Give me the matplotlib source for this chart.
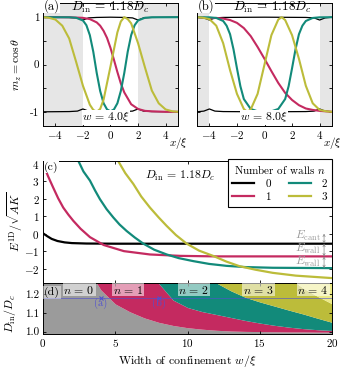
import matplotlib.pyplot as plt
import numpy as np

plt.rcParams['font.family'] = 'cmr10'
plt.rcParams['mathtext.fontset'] = 'cm'
plt.rcParams['axes.formatter.use_mathtext'] = True
plt.rcParams['font.size'] = 8
plt.rcParams['axes.linewidth'] = 0.7
plt.rcParams['xtick.direction'] = 'in'
plt.rcParams['ytick.direction'] = 'in'
plt.rcParams['xtick.top'] = True
plt.rcParams['ytick.right'] = True
plt.rcParams['xtick.major.size'] = 2.5
plt.rcParams['ytick.major.size'] = 2.5
plt.rcParams['xtick.major.width'] = 0.6
plt.rcParams['ytick.major.width'] = 0.6
plt.rcParams['xtick.major.pad'] = 2.5
plt.rcParams['ytick.major.pad'] = 2.5

COLORS = ['black', '#c42a60', '#128a7a', '#bcbc3a']
YELLOW = '#ecea86'
GRAY = '#9b9b9b'
BLUE = '#5050d0'

# ---- (a) profiles, w = 4.0 xi ----
A_W = 4.0
A_X_BLACK = [-4.9, -3.0, -2.4, -2.0, -1.6, -1.0, 0.0, 1.0, 1.6, 2.0, 2.4, 3.0, 4.9]
A_M_BLACK_UP = [1.0, 0.995, 0.985, 0.94, 0.985, 0.995, 1.0, 0.995, 0.985, 0.94, 0.985, 0.995, 1.0]
A_M_BLACK_DOWN = [-1.0, -0.995, -0.985, -0.94, -0.985, -0.995, -1.0, -0.995, -0.985, -0.94, -0.985, -0.995, -1.0]
A_X_RED = [-4.9, -3.0, -2.0, -1.5, -1.0, -0.75, -0.5, -0.25, 0.0, 0.25, 0.5, 0.75, 1.0, 1.5, 2.0, 2.5, 3.0, 4.0, 4.9]
A_M_RED = [1.0, 0.998, 0.986, 0.96, 0.89, 0.82, 0.71, 0.56, 0.35, 0.10, -0.16, -0.40, -0.59, -0.84, -0.94, -0.98, -0.99, -1.0, -1.0]
A_X_TEAL = [-4.9, -3.0, -2.5, -2.0, -1.75, -1.5, -1.25, -1.0, -0.75, -0.5, -0.25, 0.0,
            0.25, 0.5, 0.75, 1.0, 1.25, 1.5, 1.75, 2.0, 2.5, 3.0, 4.9]
A_M_TEAL = [1.0, 0.998, 0.988, 0.93, 0.83, 0.62, 0.27, -0.18, -0.56, -0.82, -0.95, -0.99,
            -0.95, -0.82, -0.56, -0.18, 0.27, 0.62, 0.83, 0.93, 0.988, 0.998, 1.0]
A_X_OLIVE = [-4.9, -4.5, -4.0, -3.5, -3.0, -2.5, -2.0, -1.5, -1.25, -1.0, -0.75, -0.5, 0.0,
             0.5, 0.75, 1.0, 1.25, 1.5, 2.0, 2.5, 3.0, 3.5, 4.0, 4.5, 4.9]
A_M_OLIVE = [1.0, 0.99, 0.95, 0.82, 0.55, 0.06, -0.45, -0.85, -0.96, -1.0, -0.94, -0.74, -0.04,
             0.68, 0.91, 1.0, 0.96, 0.87, 0.45, -0.06, -0.55, -0.82, -0.95, -0.99, -1.0]

# ---- (b) profiles, w = 8.0 xi ----
B_W = 8.0
B_X_BLACK = [-4.9, -4.4, -4.0, -3.6, -3.0, 0.0, 3.0, 3.6, 4.0, 4.4, 4.9]
B_M_BLACK_UP = [1.0, 0.985, 0.94, 0.985, 0.995, 1.0, 0.995, 0.985, 0.94, 0.985, 1.0]
B_M_BLACK_DOWN = [-1.0, -0.985, -0.94, -0.985, -0.995, -1.0, -0.995, -0.985, -0.94, -0.985, -1.0]
B_X_RED = [-4.9, -4.0, -3.5, -3.0, -2.5, -2.0, -1.5, -1.0, -0.5, 0.0, 0.5, 1.0, 1.5, 2.0,
           2.5, 3.0, 3.5, 4.0, 4.9]
B_M_RED = [1.0, 0.975, 0.985, 0.97, 0.94, 0.88, 0.77, 0.60, 0.37, 0.12, -0.14, -0.39, -0.60, -0.75,
           -0.86, -0.93, -0.96, -0.98, -1.0]
B_X_TEAL = [-4.9, -4.0, -3.5, -3.0, -2.75, -2.5, -2.25, -2.0, -1.75, -1.5, -1.0, -0.5, 0.0,
            0.5, 1.0, 1.5, 1.75, 2.0, 2.25, 2.5, 2.75, 3.0, 3.5, 4.0, 4.9]
B_M_TEAL = [1.0, 0.997, 0.984, 0.92, 0.82, 0.64, 0.32, -0.08, -0.46, -0.73, -0.94, -0.99, -1.0,
            -0.99, -0.94, -0.73, -0.46, -0.08, 0.32, 0.64, 0.82, 0.92, 0.984, 0.997, 1.0]
B_X_OLIVE = [-4.9, -4.5, -4.0, -3.5, -3.0, -2.5, -2.0, -1.5, -1.25, -1.0, -0.5, 0.0, 0.5, 1.0,
             1.25, 1.5, 2.0, 2.5, 3.0, 3.5, 4.0, 4.5, 4.9]
B_M_OLIVE = [1.0, 0.99, 0.96, 0.82, 0.45, -0.12, -0.62, -0.94, -1.0, -0.95, -0.62, 0.0, 0.62, 0.95,
             1.0, 0.94, 0.62, 0.12, -0.45, -0.82, -0.96, -0.99, -1.0]

# ---- (c) energies vs width at D_in = 1.18 D_c ----
C_W0 = [0, 0.3, 0.6, 1.0, 1.5, 2.0, 3.0, 5.0, 10, 20]
C_E0 = [0.02, -0.15, -0.3, -0.42, -0.5, -0.54, -0.565, -0.575, -0.575, -0.575]
C_W1 = [0, 0.35, 0.7, 1.05, 1.4, 1.75, 2.1, 2.6, 3.25, 4.2, 5.6, 7.4, 9.5, 12, 15, 20]
C_E1 = [4.0, 3.28, 2.64, 2.02, 1.49, 1.09, 0.73, 0.28, -0.2, -0.65, -1.0, -1.19, -1.27, -1.3, -1.3, -1.3]
C_W2 = [2.45, 2.8, 3.25, 3.6, 3.94, 4.4, 4.87, 5.3, 5.79, 6.35, 6.94, 7.7, 8.56, 9.4, 10.4, 11.5,
        12.7, 14, 15.9, 18, 20]
C_E2 = [4.15, 3.55, 3.03, 2.47, 1.97, 1.4, 0.92, 0.52, 0.15, -0.22, -0.57, -0.92, -1.19, -1.4,
        -1.57, -1.73, -1.84, -1.91, -1.95, -1.96, -1.97]
C_W3 = [5.2, 5.7, 6.25, 6.8, 7.4, 8.0, 8.56, 9.2, 9.94, 10.8, 11.8, 12.7, 13.6, 14.7, 15.9, 17.5, 20]
C_E3 = [4.15, 3.45, 2.84, 2.12, 1.49, 0.93, 0.44, -0.08, -0.57, -0.97, -1.28, -1.6, -1.86, -2.06,
        -2.24, -2.4, -2.54]

# ---- (d) phase boundaries D_in/D_c between n and n+1 walls ----
D_W = list(range(0, 21))
D_B01 = [1.40, 1.40, 1.40, 1.35, 1.225, 1.149, 1.107, 1.074, 1.05, 1.033, 1.021, 1.013, 1.007,
         1.003, 1.001, 1.0, 0.999, 0.998, 0.998, 0.997, 0.997]
D_B12 = [1.40, 1.40, 1.40, 1.40, 1.40, 1.40, 1.40, 1.38, 1.26, 1.17, 1.13, 1.108, 1.092, 1.076,
         1.06, 1.046, 1.034, 1.024, 1.016, 1.01, 1.006]
D_B23 = [1.40] * 11 + [1.38, 1.262, 1.22, 1.185, 1.16, 1.138, 1.116, 1.095, 1.072, 1.05]
D_B34 = [1.40] * 16 + [1.40, 1.29, 1.235, 1.19, 1.15]
D_CUT = 1.18
MARK_W = [4.0, 8.0]

fig = plt.figure(figsize=(3.4, 3.7), dpi=100)
ax_a = fig.add_axes([43 / 340, 1 - 126 / 370, 135 / 340, 123 / 370])
ax_b = fig.add_axes([197 / 340, 1 - 126 / 370, 135 / 340, 123 / 370])
ax_c = fig.add_axes([43 / 340, 1 - 283 / 370, 289 / 340, 122 / 370])
ax_d = fig.add_axes([43 / 340, 1 - 334 / 370, 289 / 340, 51 / 370])


def draw_profile(ax, w, xb, mup, mdown, xr, mr, xt, mt, xo, mo, tag, text_x, w_x):
    ax.axvspan(-5, -w / 2, color='#e6e6e6', lw=0)
    ax.axvspan(w / 2, 5, color='#e6e6e6', lw=0)
    ax.plot(xb, mup, color=COLORS[0], lw=0.9)
    ax.plot(xb, mdown, color=COLORS[0], lw=0.9)
    ax.plot(xr, mr, color=COLORS[1], lw=1.5)
    ax.plot(xt, mt, color=COLORS[2], lw=1.5)
    ax.plot(xo, mo, color=COLORS[3], lw=1.5)
    ax.set_xlim(-4.9, 4.9)
    ax.set_ylim(-1.3, 1.3)
    ax.set_xticks([-4, -2, 0, 2, 4])
    ax.set_yticks([-1, -0.5, 0, 0.5, 1])
    ax.set_yticklabels(['-1', '', '0', '', '1'])
    ax.text(0.005, 0.975, tag, transform=ax.transAxes, ha='left', va='center', fontsize=9,
            bbox=dict(facecolor='white', edgecolor='none', pad=0.3), zorder=5)
    ax.text(text_x, 0.962, r'$D_\mathrm{in}\,=\,1.18D_c$', transform=ax.transAxes,
            ha='center', va='center', fontsize=9.5)
    ax.text(w_x, 0.07, r'$w\,=\,%.1f\xi$' % w, transform=ax.transAxes, ha='center',
            va='center', fontsize=8.5, bbox=dict(facecolor='white', edgecolor='none', pad=0.2))
    ax.text(0.93, -0.07, r'$x/\xi$', transform=ax.transAxes, ha='left', va='top', fontsize=8)


draw_profile(ax_a, A_W, A_X_BLACK, A_M_BLACK_UP, A_M_BLACK_DOWN, A_X_RED, A_M_RED,
             A_X_TEAL, A_M_TEAL, A_X_OLIVE, A_M_OLIVE, '(a)', 0.5, 0.464)
draw_profile(ax_b, B_W, B_X_BLACK, B_M_BLACK_UP, B_M_BLACK_DOWN, B_X_RED, B_M_RED,
             B_X_TEAL, B_M_TEAL, B_X_OLIVE, B_M_OLIVE, '(b)', 0.56, 0.496)
ax_b.set_yticklabels([])
fig.text(17 / 340, 1 - 64 / 370, r'$m_z = \cos\theta$', rotation=90, ha='center', va='center',
         fontsize=8.5)

# ---- (c) ----
lines = []
for i, (w, e) in enumerate([(C_W0, C_E0), (C_W1, C_E1), (C_W2, C_E2), (C_W3, C_E3)]):
    ln, = ax_c.plot(w, e, color=COLORS[i], lw=1.6, label=str(i))
    lines.append(ln)
ax_c.set_xlim(0, 20)
ax_c.set_ylim(-2.82, 4.15)
ax_c.set_xticks([0, 5, 10, 15, 20])
ax_c.set_xticklabels([])
ax_c.set_yticks([-2, -1, 0, 1, 2, 3, 4])
ax_c.text(0.004, 0.995, '(c)', transform=ax_c.transAxes, ha='left', va='top', fontsize=8.5,
          bbox=dict(facecolor='white', edgecolor='none', pad=0.2), zorder=5)
ax_c.text(0.475, 0.88, r'$D_\mathrm{in}\,=\,1.18D_c$', transform=ax_c.transAxes,
          ha='center', va='center', fontsize=8.5)
leg = ax_c.legend(handles=lines, ncol=2, title=r'Number of walls $n$', loc='upper right',
                  bbox_to_anchor=(1.0, 1.02), fancybox=False, framealpha=1, edgecolor='black',
                  fontsize=8, title_fontsize=8, handlelength=2.0, handletextpad=1.0,
                  columnspacing=1.6, borderpad=0.4, labelspacing=0.3, borderaxespad=0)
leg.get_frame().set_linewidth(0.8)
leg.set_zorder(10)

levels = [0.0, C_E0[-1], C_E1[-1], C_E2[-1]]
names = [r'$E_\mathrm{cant}$', r'$E_\mathrm{wall}$', r'$E_\mathrm{wall}$']
for k in range(3):
    ax_c.annotate('', xy=(19.45, levels[k + 1]), xytext=(19.45, levels[k]),
                  arrowprops=dict(arrowstyle='<->', color='#888888', lw=0.5,
                                  shrinkA=0, shrinkB=0, mutation_scale=4))
    ax_c.text(19.2, levels[k] - 0.15 if k == 0 else levels[k] - 0.3, names[k], ha='right',
              va='center', color='#999999', fontsize=8.5)
fig.text(15 / 340, 1 - 222 / 370, r'$E^\mathrm{1D}/\sqrt{AK}$', rotation=90, ha='center',
         va='center', fontsize=8.5)

# ---- (d) ----
lo, hi = 0.9, 1.5
ax_d.fill_between(D_W, lo, D_B01, color=GRAY, lw=0)
ax_d.fill_between(D_W, D_B01, D_B12, color=COLORS[1], lw=0)
ax_d.fill_between(D_W, D_B12, D_B23, color=COLORS[2], lw=0)
ax_d.fill_between(D_W, D_B23, D_B34, color=COLORS[3], lw=0)
ax_d.fill_between(D_W, D_B34, hi, color=YELLOW, lw=0)
ax_d.axhline(D_CUT, color=BLUE, lw=0.6, alpha=0.7)
ax_d.plot(MARK_W, [D_CUT] * len(MARK_W), 'x', color=BLUE, ms=3.5, mew=0.8)
for wm, tg in zip(MARK_W, ['(a)', '(b)']):
    ax_d.text(wm, 1.152, tg, ha='center', va='center', color=BLUE, fontsize=7.5)
ax_d.set_xlim(0, 20)
ax_d.set_ylim(0.987, 1.262)
ax_d.set_xticks([0, 5, 10, 15, 20])
ax_d.set_yticks([1.0, 1.1, 1.2])
ax_d.set_yticklabels(['1.0', '1.1', '1.2'])
ax_d.text(0.004, 0.93, '(d)', transform=ax_d.transAxes, ha='left', va='top', fontsize=8.5,
          bbox=dict(facecolor='white', alpha=0.45, edgecolor='none', pad=0.5))
for k, wl in enumerate([2.5, 5.9, 10.45, 14.9, 18.7]):
    ax_d.text(wl, 1.226, r'$n\,=\,%d$' % k, ha='center', va='center', fontsize=8.5,
              bbox=dict(facecolor='white', alpha=0.55, edgecolor='none', pad=0.5))
fig.text(10 / 340, 1 - 314 / 370, r'$D_\mathrm{in}/D_c$', rotation=90, ha='center',
         va='center', fontsize=8.5)
fig.text(187 / 340, 1 - 361 / 370, r'Width of confinement $w/\xi$', ha='center', va='center',
         fontsize=8.5)

fig.savefig('out.png', dpi=100)
